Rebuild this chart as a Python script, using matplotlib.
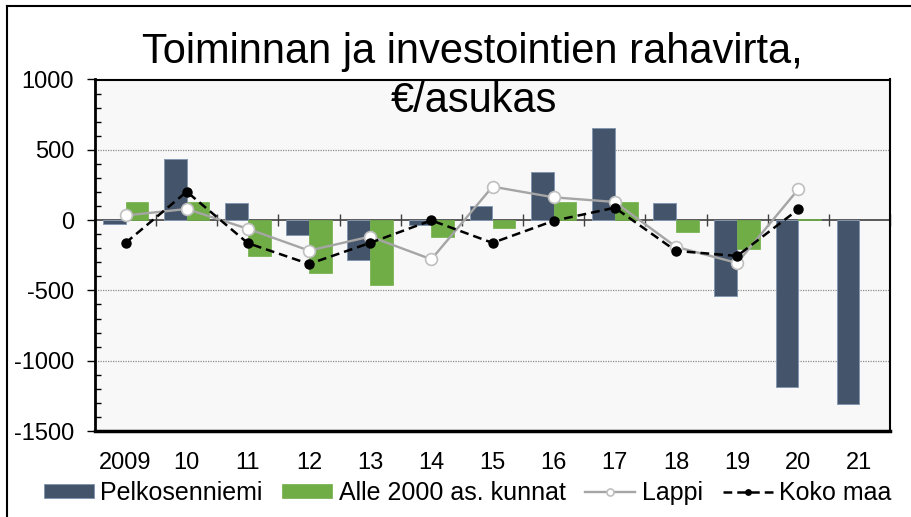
import numpy as np
import matplotlib
matplotlib.use("Agg")
import matplotlib.pyplot as plt
from matplotlib.lines import Line2D
from matplotlib.ticker import MultipleLocator, NullLocator

plt.rcParams['font.family'] = ['Liberation Sans', 'DejaVu Sans']
plt.rcParams['axes.unicode_minus'] = False

years = ["2009", "10", "11", "12", "13", "14", "15", "16", "17", "18", "19", "20", "21"]
pelkosenniemi = [-31, 433, 119, -107, -286, -33, 100, 340, 655, 124, -543, -1185, -1308]
alle2000 = [126, 126, -252, -376, -460, -119, -55, 131, 131, -88, -205, 7, np.nan]
lappi = [33, 79, -62, -217, -117, -279, 238, 162, 129, -190, -305, 219, np.nan]
koko_maa = [-162, 202, -164, -312, -162, -2, -162, -5, 88, -219, -255, 76, np.nan]

title_lines = ["Toiminnan ja investointien rahavirta,", "€/asukas"]
series_names = ["Pelkosenniemi", "Alle 2000 as. kunnat", "Lappi", "Koko maa"]

W, H = 912, 517
fig = plt.figure(figsize=(W / 100, H / 100), dpi=100)
ax = fig.add_axes([95 / W, 1 - 431 / H, (890 - 95) / W, (431 - 79.5) / H])
ax.set_facecolor('#F8F8F8')

x = np.arange(len(years))
bw = 0.372
b1 = ax.bar(x - bw / 2, pelkosenniemi, bw, color='#44546A', edgecolor='#8497B0',
            linewidth=0.7, zorder=3, label=series_names[0])
b2 = ax.bar(x + bw / 2, alle2000, bw, color='#70AD47', edgecolor='#70AD47',
            linewidth=0.5, zorder=3, label=series_names[1])
l1, = ax.plot(x, lappi, color='#A5A5A5', lw=1.7, marker='o', markersize=8.5,
              markerfacecolor='white', markeredgecolor='#BFBFBF', markeredgewidth=1.2,
              zorder=4, label=series_names[2])
l2, = ax.plot(x, koko_maa, color='black', lw=1.8, dashes=(3.5, 2), marker='o',
              markersize=6.5, markerfacecolor='black', markeredgecolor='black',
              zorder=5, label=series_names[3])

ax.set_xlim(-0.5, len(years) - 0.5)
ax.set_ylim(-1500, 1000)
ax.yaxis.set_major_locator(MultipleLocator(500))
ax.yaxis.set_minor_locator(MultipleLocator(100))
ax.tick_params(axis='y', which='major', direction='out', length=6, width=1,
               labelsize=17, pad=9, colors='black')
ax.tick_params(axis='y', which='minor', direction='in', length=4, width=1)

# grid lines (dotted), zero line solid
for v in [500, -500, -1000]:
    ax.axhline(v, color='#8C8C8C', lw=0.9, ls=(0, (1, 1)), zorder=1)

# x axis at zero with boundary ticks
ax.spines['bottom'].set_position(('data', 0))
ax.spines['bottom'].set_color('#404040')
ax.spines['bottom'].set_linewidth(1.2)
ax.spines['bottom'].set_zorder(2)
ax.set_xticks(x)
ax.set_xticklabels([])
ax.tick_params(axis='x', which='major', length=0)
ax.set_xticks(np.arange(len(years) + 1) - 0.5, minor=True)
ax.tick_params(axis='x', which='minor', direction='inout', length=9, width=1,
               color='#404040')

for s in ['left', 'top', 'right']:
    ax.spines[s].set_color('black')
    ax.spines[s].set_linewidth(1.5)
ax.spines['left'].set_linewidth(2)

sec = ax.secondary_xaxis('bottom')
sec.set_xticks(x)
sec.set_xticklabels(years)
sec.xaxis.set_minor_locator(NullLocator())
sec.tick_params(axis='x', which='both', length=0, labelsize=17, pad=15, colors='black')
sec.spines['bottom'].set_linewidth(2.5)
sec.spines['bottom'].set_color('black')

# title
fig.text(472 / W, 1 - 63 / H, title_lines[0], ha='center', va='baseline',
         fontsize=30, color='black')
fig.text(474 / W, 1 - 112 / H, title_lines[1], ha='center', va='baseline',
         fontsize=30, color='black')

leg = fig.legend([b1, b2, l1, l2], series_names, loc='center',
                 bbox_to_anchor=(467.5 / W, 1 - 493 / H),
                 ncol=4, frameon=False, fontsize=18, handlelength=2.0,
                 handleheight=0.5, handletextpad=0.25, columnspacing=0.8,
                 markerscale=0.6, borderpad=0, borderaxespad=0)

# figure border (top and left)
fig.add_artist(Line2D([7 / W, 1], [1 - 6 / H, 1 - 6 / H], color='black', lw=1.5,
                      transform=fig.transFigure))
fig.add_artist(Line2D([7 / W, 7 / W], [0, 1 - 6 / H], color='black', lw=1.5,
                      transform=fig.transFigure))

fig.savefig('out.png', dpi=100)
